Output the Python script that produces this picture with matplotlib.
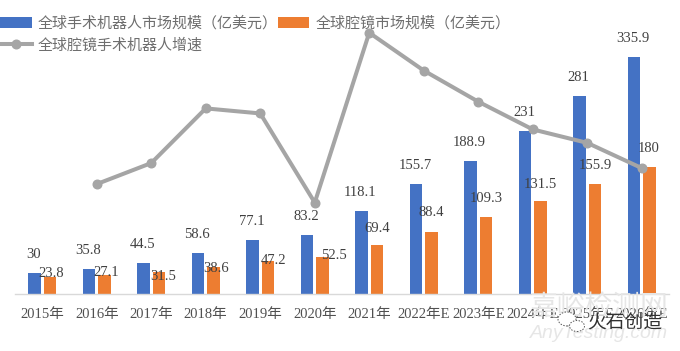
import matplotlib
matplotlib.use("Agg")
from matplotlib import pyplot as plt
from matplotlib.patches import Ellipse
import numpy as np

years = ["2015年", "2016年", "2017年", "2018年", "2019年", "2020年", "2021年",
         "2022年E", "2023年E", "2024年E", "2025年E", "2026年E"]
robot_market = [30, 35.8, 44.5, 58.6, 77.1, 83.2, 118.1, 155.7, 188.9, 231, 281, 335.9]
lap_market = [23.8, 27.1, 31.5, 38.6, 47.2, 52.5, 69.4, 88.4, 109.3, 131.5, 155.9, 180]
# no growth for the first year
growth = [np.nan, 13.9, 16.4, 22.9, 22.3, 11.7, 31.9, 27.4, 23.7, 20.4, 18.8, 15.8]

# label offsets in pixels, from top centre of each orange bar
lap_dx = [1, 2, 4, 3, 6, 11, 0, 0, 0, 0, 0, -1]
lap_dy = [4, 2, -5, -2, 0, 1, 17, 19, 18, 17, 18, 18]

W, H = 680, 351
LEFT, RIGHT, BASE, TOP = 15, 669, 294, 10
BLUE = "#4472C4"
ORANGE = "#ED7D31"
GRAY = "#A5A5A5"
TEXT = "#404040"
TICK_TEXT = "#505050"
LEGEND_TEXT = "#6E6E6E"
SERIF = ["Liberation Serif", "Noto Sans CJK SC"]
CJK = ["Noto Sans CJK SC", "DejaVu Sans"]

fig = plt.figure(figsize=(W / 100, H / 100), dpi=100)
ax = fig.add_axes([LEFT / W, 1 - BASE / H, (RIGHT - LEFT) / W, (BASE - TOP) / H])
x = np.arange(len(years))

b1 = ax.bar(x - 0.142, robot_market, 0.235, color=BLUE, label="全球手术机器人市场规模（亿美元）")
b2 = ax.bar(x + 0.142, lap_market, 0.225, color=ORANGE, label="全球腔镜市场规模（亿美元）")
ax.set_xlim(-0.5, 11.5)
ax.set_ylim(0, (BASE - TOP) / 0.7056)

for i in range(len(years)):
    ax.annotate(str(robot_market[i]), (x[i] - 0.142, robot_market[i]), xytext=(-1, 18.5),
                textcoords="offset pixels", ha="center", va="center",
                family=SERIF, fontsize=10.5, color=TEXT, zorder=6)
    ax.annotate(str(lap_market[i]), (x[i] + 0.142, lap_market[i]), xytext=(lap_dx[i], lap_dy[i]),
                textcoords="offset pixels", ha="center", va="center",
                family=SERIF, fontsize=10.5, color=TEXT, zorder=6)

ax.set_xticks(x)
ax.set_xticklabels(years, family=SERIF, fontsize=10.5, color=TICK_TEXT)
ax.tick_params(axis="x", length=0, pad=10)
ax.set_yticks([])
for side in ["top", "left", "right"]:
    ax.spines[side].set_visible(False)
ax.spines["bottom"].set_color("#D9D9D9")
ax.spines["bottom"].set_linewidth(1)

ax2 = ax.twinx()
ax2.set_ylim(0.83, 34.6)
ax2.set_yticks([])
for side in ax2.spines:
    ax2.spines[side].set_visible(False)
l1, = ax2.plot(x, growth, color=GRAY, lw=2.9, marker="o", ms=6.2, label="全球腔镜手术机器人增速")

leg = fig.legend(handles=[b1, l1, b2], ncol=2, loc="upper left",
                 bbox_to_anchor=(0, 1 - 16 / H), frameon=False, borderpad=0, borderaxespad=0,
                 handlelength=2.1, handletextpad=0.38, labelspacing=0.5, columnspacing=0.05,
                 prop={"family": CJK, "size": 10.8})
for t in leg.get_texts():
    t.set_color(LEGEND_TEXT)

# watermark
fig.text(599 / W, 1 - 307 / H, "嘉峪检测网", family=CJK, fontsize=20, color="#E6E6E6",
         ha="center", va="center", zorder=0)
fig.text(599 / W, 1 - 334 / H, "AnyTesting.com", family="Liberation Sans", style="italic",
         fontsize=14, color="#E6E6E6", ha="center", va="center", zorder=0)
fig.text(625 / W, 1 - 322 / H, "火石创造", family=CJK, fontsize=13.5, color="#303030",
         ha="center", va="center", zorder=7)
for cx, cy, w, h in [(567, 319, 18, 14), (577, 326, 15, 11)]:
    fig.add_artist(Ellipse((cx / W, 1 - cy / H), w / W, h / H, transform=fig.transFigure,
                           fc="white", ec="#555555", lw=0.7, ls=(0, (1.5, 1.5)), zorder=7))

plt.savefig("out.png", dpi=100)
